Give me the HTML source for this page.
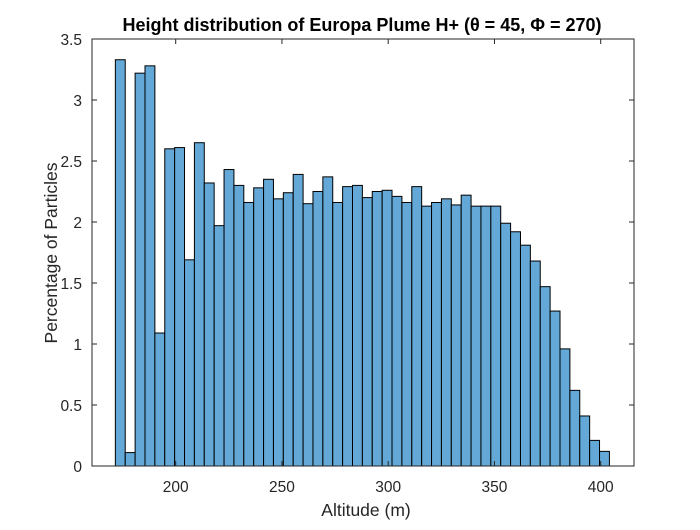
<!DOCTYPE html>
<html><head><meta charset="utf-8"><style>
body{margin:0;background:#fff;}
svg text{font-family:"Liberation Sans",sans-serif;fill:#262626;}
</style></head><body>
<svg id="chart" width="700" height="525" viewBox="0 0 700 525" xmlns="http://www.w3.org/2000/svg">
<rect width="700" height="525" fill="#fff"/>
<g id="bars"></g>
<g id="axes"></g>
<text x="362" y="31" text-anchor="middle" font-size="18" font-weight="bold" style="fill:#000">Height distribution of Europa Plume H+ (θ = 45, Φ = 270)</text>
<text x="366" y="516" text-anchor="middle" font-size="17.5">Altitude (m)</text>
<text transform="translate(57,253) rotate(-90)" text-anchor="middle" font-size="17.5">Percentage of Particles</text>
</svg>
<script>
const binStart = 171.6;
const binWidth = 4.65;
const values = [3.33,0.11,3.22,3.28,1.09,2.60,2.61,1.69,2.65,2.32,1.97,2.43,2.30,2.16,2.28,2.35,2.19,2.24,2.39,2.15,2.25,2.37,2.16,2.29,2.30,2.20,2.25,2.26,2.21,2.16,2.29,2.13,2.16,2.19,2.14,2.22,2.13,2.13,2.13,1.99,1.92,1.81,1.68,1.47,1.27,0.96,0.62,0.41,0.21,0.12];
const xTicks = [200,250,300,350,400];
const yTicks = [0,0.5,1,1.5,2,2.5,3,3.5];
const yTickLabels = ["0","0.5","1","1.5","2","2.5","3","3.5"];

const L=92,R=634,T=39,B=466;
const xScale=v=>175.7+(v-200)*2.125;
const yScale=v=>B-(v/3.5)*(B-T);
const NS="http://www.w3.org/2000/svg";
const bars=document.getElementById('bars');
values.forEach((v,i)=>{
  const x0=xScale(binStart+i*binWidth), x1=xScale(binStart+(i+1)*binWidth);
  const r=document.createElementNS(NS,'rect');
  r.setAttribute('x',x0);r.setAttribute('y',yScale(v));
  r.setAttribute('width',x1-x0);r.setAttribute('height',B-yScale(v));
  r.setAttribute('fill','#63a8d6');r.setAttribute('stroke','#000');r.setAttribute('stroke-width','1');
  
  
  bars.appendChild(r);
});
const axes=document.getElementById('axes');
function line(x1,y1,x2,y2){const l=document.createElementNS(NS,'line');l.setAttribute('x1',x1);l.setAttribute('y1',y1);l.setAttribute('x2',x2);l.setAttribute('y2',y2);l.setAttribute('stroke','#262626');l.setAttribute('stroke-width','1');axes.appendChild(l);return l;}
const box=document.createElementNS(NS,'rect');
box.setAttribute('x',L);box.setAttribute('y',T);box.setAttribute('width',R-L);box.setAttribute('height',B-T);
box.setAttribute('fill','none');box.setAttribute('stroke','#262626');


axes.appendChild(box);
xTicks.forEach(t=>{
  const x=xScale(t);
  line(x,B,x,B-5);line(x,T,x,T+5);
  const tx=document.createElementNS(NS,'text');
  tx.setAttribute('x',x);tx.setAttribute('y',B+26);tx.setAttribute('text-anchor','middle');tx.setAttribute('font-size','15.5');
  tx.textContent=t;
  
  
  axes.appendChild(tx);
});
yTicks.forEach((t,i)=>{
  const y=yScale(t);
  line(L,y,L+5,y);line(R,y,R-5,y);
  const tx=document.createElementNS(NS,'text');
  tx.setAttribute('x',L-10);tx.setAttribute('y',y+6);tx.setAttribute('text-anchor','end');tx.setAttribute('font-size','15.5');
  tx.textContent=yTickLabels[i];
  
  
  axes.appendChild(tx);
});
</script>
</body></html>
